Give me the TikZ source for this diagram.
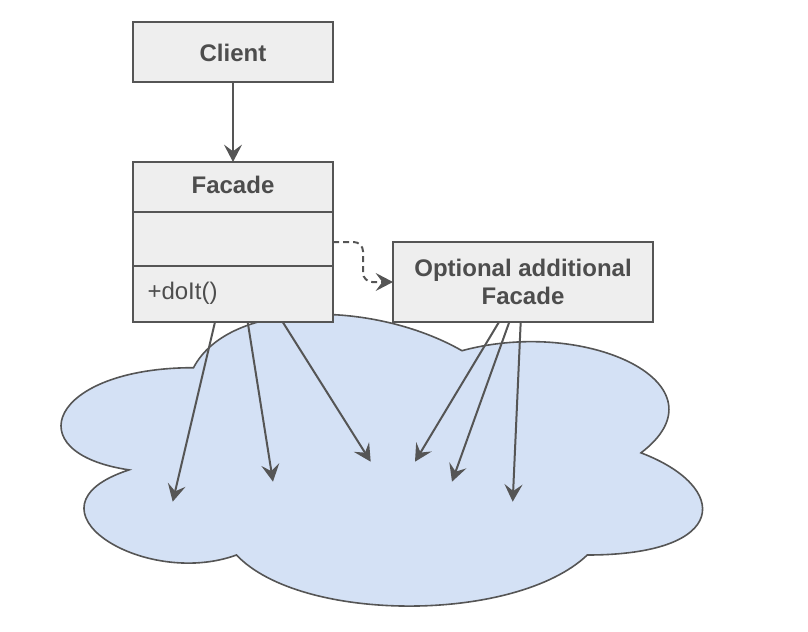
\documentclass[tikz,border=0pt]{standalone}
\usepackage{fontspec}
\setmainfont{Liberation Sans}
\usetikzlibrary{arrows.meta,calc}
\definecolor{linegray}{HTML}{555555}
\definecolor{boxfill}{HTML}{EEEEEE}
\definecolor{cloudfill}{HTML}{D4E1F5}
\definecolor{textgray}{HTML}{4D4D4D}
\begin{document}
\begin{tikzpicture}[x=0.75pt,y=-0.75pt,
  umlbox/.style={draw=linegray, fill=boxfill, line width=1.5pt, inner sep=0pt, outer sep=0pt},
  boldtext/.style={inner sep=0pt, outer sep=0pt, text=textgray, font=\fontsize{18}{20.5}\selectfont\bfseries},
  regtext/.style={inner sep=0pt, outer sep=0pt, text=textgray, font=\fontsize{18}{20.5}\selectfont},
  conn/.style={draw=linegray, line width=1.5pt, -{Stealth[length=13pt,width=13.5pt,inset=5pt]}},
  cloudline/.style={draw=linegray, fill=cloudfill, line width=1.2pt},
]
\useasboundingbox (0,0) rectangle (808,632);

% cloud
\path[cloudline] (193.5,367.7)
  .. controls (50.3,367.7) and (14.5,452.85) .. (129.06,469.88)
  .. controls (14.5,507.33) and (143.38,589.05) .. (236.46,555.0)
  .. controls (300.9,623.1) and (515.7,623.1) .. (587.3,555.0)
  .. controls (730.5,555.0) and (730.5,486.9) .. (641.0,452.85)
  .. controls (730.5,384.75) and (587.3,316.65) .. (462.0,350.7)
  .. controls (372.5,299.6) and (229.3,299.6) .. (193.5,367.7) -- cycle;

% boxes
\node[umlbox, minimum width=150pt, minimum height=45pt] (client) at (233,52) {};
\node[boldtext] (clientlabel) at (233,53) {Client};

\node[umlbox, minimum width=150pt, minimum height=120pt] (facade) at (233,242) {};
\draw[linegray, line width=1.5pt] ($(facade.north west)+(0,50)$) -- ($(facade.north east)+(0,50)$);
\draw[linegray, line width=1.5pt] ($(facade.north west)+(0,104)$) -- ($(facade.north east)+(0,104)$);
\node[boldtext] (facadelabel) at (233,184.5) {Facade};
\node[regtext, anchor=base west] (doit) at (147.5,299.5) {+doIt()};

\node[umlbox, minimum width=195pt, minimum height=60pt] (optional) at (523,282) {};
\node[boldtext, align=center] (optlabel) at (523,282) {Optional additional\\Facade};

% free ends
\coordinate (t1) at (172.7,501.7);
\coordinate (t2) at (273,481.7);
\coordinate (t3) at (370.7,461.7);
\coordinate (t4) at (415,461.7);
\coordinate (t5) at (452,481.7);
\coordinate (t6) at (512.7,501.7);

% connectors
\draw[conn] (client.south) -- (facade.north);
\draw[conn, dash pattern=on 4.5pt off 3pt, rounded corners=7pt] (facade.east) -- ++(30,0) |- (optional.west);

\draw[conn] ($(facade.south west)+(82,0)$) -- (t1);
\draw[conn] ($(facade.south west)+(114.7,0)$) -- (t2);
\draw[conn] ($(facade.south west)+(149.7,0)$) -- (t3);
\draw[conn] ($(optional.south west)+(106,0)$) -- (t4);
\draw[conn] ($(optional.south west)+(116.3,0)$) -- (t5);
\draw[conn] ($(optional.south west)+(127.7,0)$) -- (t6);
\end{tikzpicture}
\end{document}
